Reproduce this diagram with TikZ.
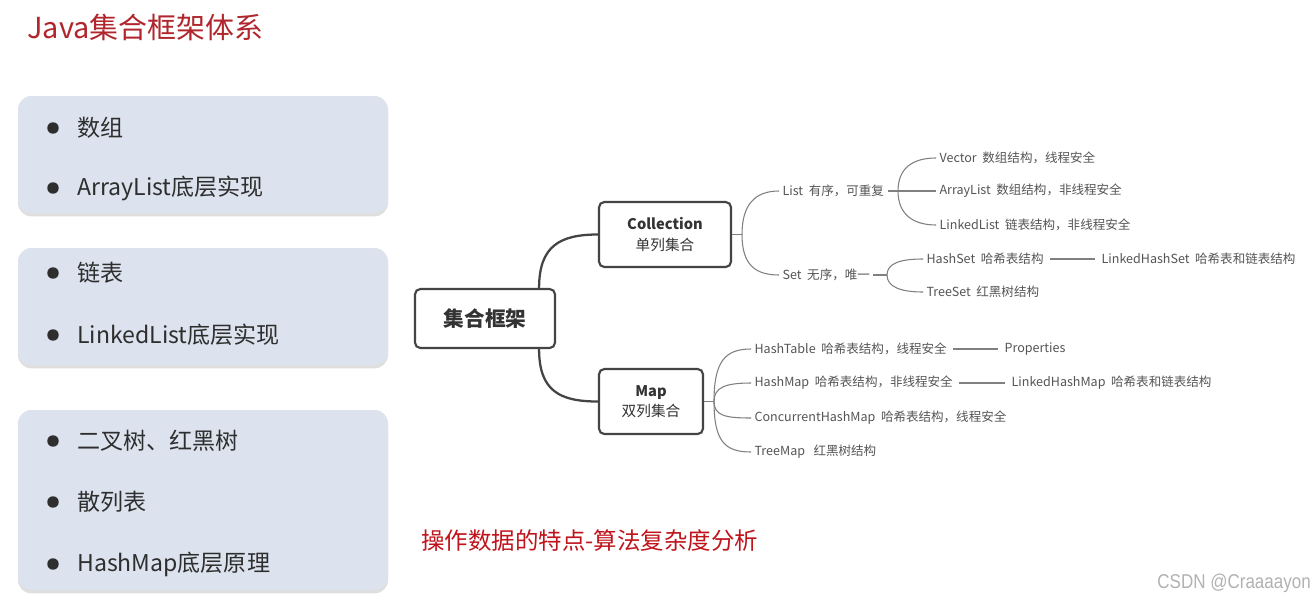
\documentclass[tikz,border=0pt]{standalone}
\usepackage{fontspec}
\setmainfont{Noto Sans CJK SC}
\newfontfamily\wmfont{Liberation Sans}
\usetikzlibrary{calc,shadows}
\definecolor{titlered}{HTML}{B0262C}
\definecolor{subred}{HTML}{C0141C}
\definecolor{panelc}{HTML}{DCE3EE}
\definecolor{txt}{HTML}{2E2E2E}
\definecolor{boxc}{HTML}{444444}
\definecolor{boxtxt}{HTML}{333333}
\definecolor{leaftxt}{HTML}{555555}
\definecolor{brc}{HTML}{808080}
\begin{document}
\begin{tikzpicture}[x=0.75pt,y=-0.75pt,
  item/.style={anchor=west, inner sep=0pt, text=txt, font=\fontsize{17.3}{20}\selectfont},
  bul/.style={circle, fill=txt, inner sep=0pt, minimum size=8.6pt},
  mbox/.style={draw=boxc, line width=1.6pt, rounded corners=4pt, fill=white, align=center, text=boxtxt},
  leaf/.style={anchor=west, inner sep=2.5pt, text=leaftxt, font=\fontsize{9.4}{11}\selectfont},
  br/.style={draw=brc, line width=0.8pt},
  mainc/.style={draw=boxc, line width=1.7pt},
  panel/.style={fill=panelc, rounded corners=10pt, drop shadow={opacity=0.25, shadow xshift=0pt, shadow yshift=-2.5pt}}
]
\useasboundingbox (0,0) rectangle (1316,607);
\fill[white] (0,0) rectangle (1316,607);

% title
\node[anchor=west, inner sep=0pt, text=titlered, font=\fontsize{21.7}{24}\selectfont] (title) at (27,27) {Java集合框架体系};

% left panels
\path[panel] (18,96) rectangle (388,213);
\path[panel] (18,248) rectangle (388,365);
\path[panel] (18,410) rectangle (388,590);

\node[bul] (b1) at (53,128) {};
\node[item] (i1) at (77,128) {数组};
\node[bul] (b2) at (53,188) {};
\node[item] (i2) at (77,188) {ArrayList底层实现};
\node[bul] (b3) at (53,273) {};
\node[item] (i3) at (77,273) {链表};
\node[bul] (b4) at (53,335) {};
\node[item] (i4) at (77,335) {LinkedList底层实现};
\node[bul] (b5) at (53,441) {};
\node[item] (i5) at (77,441) {二叉树、红黑树};
\node[bul] (b6) at (53,502) {};
\node[item] (i6) at (77,502) {散列表};
\node[bul] (b7) at (53,564) {};
\node[item] (i7) at (77,564) {HashMap底层原理};

% mind map boxes
\node[mbox, minimum width=105pt, minimum height=44.25pt, font=\fontsize{15.5}{18}\selectfont\bfseries] (root) at (485,318.5) {集合框架};
\node[mbox, minimum width=99pt, minimum height=48.75pt, font=\fontsize{11}{15.5}\selectfont] (coll) at (665,234.5) {\textbf{Collection}\\单列集合};
\node[mbox, minimum width=78pt, minimum height=48.75pt, font=\fontsize{11}{15.5}\selectfont] (map) at (651,401.5) {\textbf{Map}\\双列集合};

\draw[mainc] ([xshift=-12.75pt]root.north east) .. controls +(0,-42) and +(-38,0) .. (coll.west);
\draw[mainc] ([xshift=-12.75pt]root.south east) .. controls +(0,42) and +(-38,0) .. (map.west);

% junctions
\coordinate (cj) at (742,234.5);
\coordinate (lj) at (898,191);
\coordinate (sj) at (887,275);
\coordinate (mj) at (714,401.5);

% Collection branch
\node[leaf] (list) at (779,191) {List\ \ 有序，可重复};
\node[leaf] (set) at (779,275) {Set\ \ 无序，唯一};
\draw[br] (coll.east) -- (cj);
\draw[br] (cj) .. controls +(0,-30) and +(-24,0) .. (list.west);
\draw[br] (cj) .. controls +(0,30) and +(-24,0) .. (set.west);

\node[leaf] (vec) at (936,158) {Vector\ \ 数组结构，线程安全};
\node[leaf] (al) at (936,191) {ArrayList\ \ 数组结构，非线程安全};
\node[leaf] (ll) at (936,225) {LinkedList\ \ 链表结构，非线程安全};
\draw[br] (list.east) -- (lj);
\draw[br] (lj) .. controls +(0,-24) and +(-22,0) .. (vec.west);
\draw[br] (lj) -- (al.west);
\draw[br] (lj) .. controls +(0,24) and +(-22,0) .. (ll.west);

\node[leaf] (hs) at (923,259) {HashSet\ \ 哈希表结构};
\node[leaf] (ts) at (923,292) {TreeSet\ \ 红黑树结构};
\node[leaf] (lhs) at (1098,259) {LinkedHashSet\ \ 哈希表和链表结构};
\draw[br] (set.east) -- (sj);
\draw[br] (sj) .. controls +(0,-12) and +(-22,0) .. (hs.west);
\draw[br] (sj) .. controls +(0,12) and +(-22,0) .. (ts.west);
\draw[br] ([xshift=2pt]hs.east) -- ([xshift=-2pt]lhs.west);

% Map branch
\node[leaf] (ht) at (751,349) {HashTable\ \ 哈希表结构，线程安全};
\node[leaf] (hm) at (751,383) {HashMap\ \ 哈希表结构，非线程安全};
\node[leaf] (chm) at (751,418) {ConcurrentHashMap\ \ 哈希表结构，线程安全};
\node[leaf] (tm) at (751,452) {TreeMap\ \ \ 红黑树结构};
\node[leaf] (prop) at (1001,349) {Properties};
\node[leaf] (lhm) at (1008,383) {LinkedHashMap\ \ 哈希表和链表结构};
\draw[br] (map.east) -- (mj);
\draw[br] (mj) .. controls +(0,-40) and +(-26,0) .. (ht.west);
\draw[br] (mj) .. controls +(0,-14) and +(-26,0) .. (hm.west);
\draw[br] (mj) .. controls +(0,14) and +(-26,0) .. (chm.west);
\draw[br] (mj) .. controls +(0,40) and +(-26,0) .. (tm.west);
\draw[br] ([xshift=2pt]ht.east) -- ([xshift=-2pt]prop.west);
\draw[br] ([xshift=2pt]hm.east) -- ([xshift=-2pt]lhm.west);

% bottom texts
\node[anchor=west, inner sep=0pt, text=subred, font=\fontsize{17.6}{20}\selectfont] (note) at (421,541) {操作数据的特点-算法复杂度分析};
\node[anchor=east, inner sep=0pt, text=black!30, font=\wmfont\fontsize{15}{18}\selectfont, xscale=0.85] (wm) at (1311,583) {CSDN @Craaaayon};
\end{tikzpicture}
\end{document}
